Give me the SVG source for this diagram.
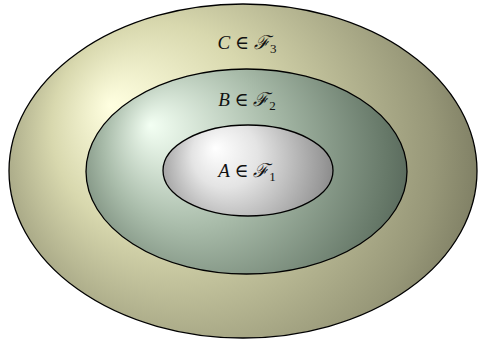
<svg xmlns="http://www.w3.org/2000/svg" width="478" height="344" viewBox="0 0 478 344">
<style>
.set{stroke:#000;stroke-width:1.3}
.lbl{font-family:"Liberation Serif","DejaVu Serif",serif;font-size:19px;fill:#111}
.it{font-style:italic}
.sub{font-size:13px}
</style>
<defs>
<radialGradient id="gC" gradientUnits="userSpaceOnUse" cx="243" cy="171" r="300" fx="110" fy="105">
<stop offset="0" stop-color="#ffffe0"/>
<stop offset="0.35" stop-color="#d8d8ae"/>
<stop offset="0.75" stop-color="#979778"/>
<stop offset="1" stop-color="#5f5f4a"/>
</radialGradient>
<radialGradient id="gB" gradientUnits="userSpaceOnUse" cx="246" cy="171" r="210" fx="150" fy="125">
<stop offset="0" stop-color="#f3fff3"/>
<stop offset="0.4" stop-color="#a9bcaa"/>
<stop offset="0.78" stop-color="#667868"/>
<stop offset="1" stop-color="#3f4c45"/>
</radialGradient>
<radialGradient id="gA" gradientUnits="userSpaceOnUse" cx="248" cy="170" r="110" fx="215" fy="148">
<stop offset="0" stop-color="#ffffff"/>
<stop offset="0.3" stop-color="#e4e4e4"/>
<stop offset="0.75" stop-color="#9a9a9a"/>
<stop offset="1" stop-color="#6a6a6a"/>
</radialGradient>
</defs>
<g id="setC">
<ellipse class="set" cx="243" cy="171" rx="234" ry="167" fill="url(#gC)"/>
<text class="lbl" x="247" y="49" text-anchor="middle"><tspan class="it">C</tspan> ∈ <tspan class="it">ℱ</tspan><tspan class="sub" dy="4">3</tspan></text>
</g>
<g id="setB">
<ellipse class="set" cx="246.5" cy="171.5" rx="160.5" ry="102.5" fill="url(#gB)"/>
<text class="lbl" x="247" y="106" text-anchor="middle"><tspan class="it">B</tspan> ∈ <tspan class="it">ℱ</tspan><tspan class="sub" dy="4">2</tspan></text>
</g>
<g id="setA">
<ellipse class="set" cx="248" cy="170.5" rx="85" ry="45.5" fill="url(#gA)"/>
<text class="lbl" x="247" y="177" text-anchor="middle"><tspan class="it">A</tspan> ∈ <tspan class="it">ℱ</tspan><tspan class="sub" dy="4">1</tspan></text>
</g>
<g id="connectors"/>
</svg>
